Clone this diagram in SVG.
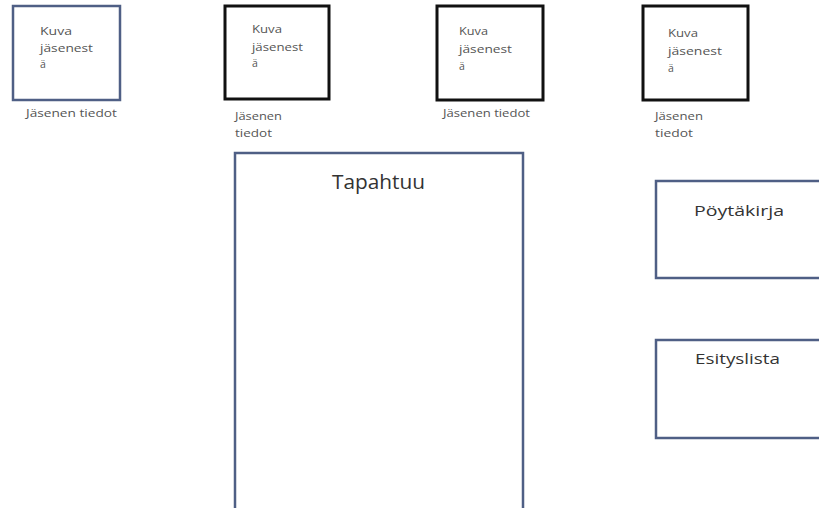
<svg xmlns="http://www.w3.org/2000/svg" width="819" height="508" viewBox="0 0 819 508">
<style>
.bg{fill:#ffffff}
.bluebox{fill:#ffffff;stroke:#4f5f85;stroke-width:2.5}
.blackbox{fill:#ffffff;stroke:#111111;stroke-width:3}
.small{font-family:"Open Sans","Liberation Sans",sans-serif;font-size:10.5px;fill:#555555}
.big{font-family:"Open Sans","Liberation Sans",sans-serif;fill:#333333}
</style>
<rect class="bg" x="0" y="0" width="819" height="508"/>
<g id="member1">
<rect class="bluebox" x="13" y="6" width="107" height="94"/>
<text class="small" x="40" y="35" textLength="32" lengthAdjust="spacingAndGlyphs">Kuva</text>
<text class="small" x="40" y="52" textLength="53" lengthAdjust="spacingAndGlyphs">jäsenest</text>
<text class="small" x="40" y="68">ä</text>
<text class="small" x="26" y="117" textLength="91" lengthAdjust="spacingAndGlyphs">Jäsenen tiedot</text>
</g>
<g id="member2">
<rect class="blackbox" x="225" y="6" width="104" height="93"/>
<text class="small" x="252" y="33" textLength="30" lengthAdjust="spacingAndGlyphs">Kuva</text>
<text class="small" x="252" y="51" textLength="51" lengthAdjust="spacingAndGlyphs">jäsenest</text>
<text class="small" x="252" y="67">ä</text>
<text class="small" x="235" y="120" textLength="47" lengthAdjust="spacingAndGlyphs">Jäsenen</text>
<text class="small" x="235" y="137" textLength="37" lengthAdjust="spacingAndGlyphs">tiedot</text>
</g>
<g id="member3">
<rect class="blackbox" x="437" y="6" width="106" height="94"/>
<text class="small" x="459" y="35" textLength="29" lengthAdjust="spacingAndGlyphs">Kuva</text>
<text class="small" x="459" y="53" textLength="53" lengthAdjust="spacingAndGlyphs">jäsenest</text>
<text class="small" x="459" y="70">ä</text>
<text class="small" x="443" y="117" textLength="87" lengthAdjust="spacingAndGlyphs">Jäsenen tiedot</text>
</g>
<g id="member4">
<rect class="blackbox" x="643" y="6" width="105" height="94"/>
<text class="small" x="668" y="37" textLength="30" lengthAdjust="spacingAndGlyphs">Kuva</text>
<text class="small" x="668" y="55" textLength="54" lengthAdjust="spacingAndGlyphs">jäsenest</text>
<text class="small" x="668" y="72">ä</text>
<text class="small" x="655" y="120" textLength="48" lengthAdjust="spacingAndGlyphs">Jäsenen</text>
<text class="small" x="655" y="137" textLength="38" lengthAdjust="spacingAndGlyphs">tiedot</text>
</g>
<g id="tapahtuu">
<rect class="bluebox" x="235" y="153" width="288" height="360"/>
<text class="big" x="332" y="189" font-size="20" textLength="93" lengthAdjust="spacingAndGlyphs">Tapahtuu</text>
</g>
<g id="poytakirja">
<rect class="bluebox" x="656" y="181" width="180" height="97"/>
<text class="big" x="694" y="216" font-size="15" textLength="90" lengthAdjust="spacingAndGlyphs">Pöytäkirja</text>
</g>
<g id="esityslista">
<rect class="bluebox" x="656" y="340" width="180" height="98"/>
<text class="big" x="695" y="364" font-size="15" textLength="85" lengthAdjust="spacingAndGlyphs">Esityslista</text>
</g>
<g id="connectors"></g>
</svg>
